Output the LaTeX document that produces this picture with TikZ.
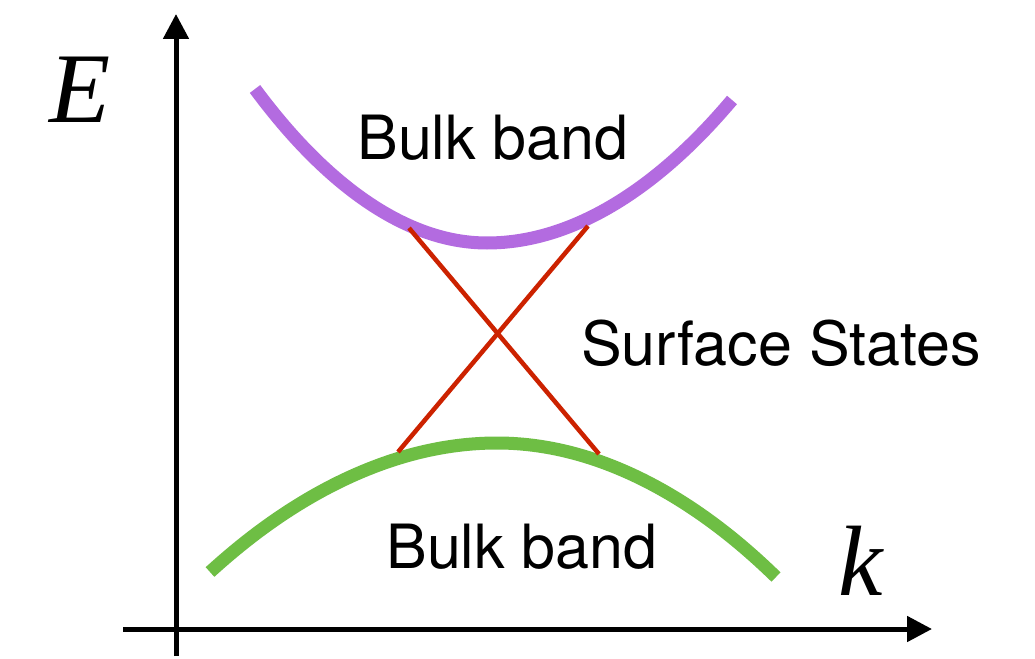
\documentclass[tikz,border=0pt]{standalone}
\usepackage{fontspec}
\setmainfont{TeX Gyre Heros}
\newfontfamily\serifit{Liberation Serif}
\usetikzlibrary{arrows.meta}
\definecolor{bandpurple}{RGB}{179,107,224}
\definecolor{bandgreen}{RGB}{110,190,68}
\definecolor{surfred}{RGB}{204,34,0}
\tikzset{
  axisline/.style={line width=5pt, -{Triangle[length=25pt,width=25pt]}},
  bandline/.style={line width=13pt},
  surfline/.style={line width=4.5pt, surfred},
  lbl/.style={inner sep=0pt, anchor=base, font=\fontsize{61}{72}\selectfont},
  axlbl/.style={inner sep=0pt, anchor=base, font=\serifit\itshape\fontsize{100}{110}\selectfont},
}
\begin{document}
\begin{tikzpicture}[x=1pt,y=-1pt]
\useasboundingbox[fill=white] (0,0) rectangle (1035,658);
% axes
\coordinate (yb) at (176,656);
\coordinate (yt) at (176,14);
\coordinate (xl) at (123,629);
\coordinate (xr) at (932,629);
\draw[axisline] (yb) -- (yt);
\draw[axisline] (xl) -- (xr);
% bands
\draw[bandline, bandpurple] (255,89) parabola bend (487,243) (732,100);
\draw[bandline, bandgreen] (210,572) parabola bend (497,443) (776,577);
% surface states
\coordinate (s1a) at (409,228);
\coordinate (s1b) at (599,454);
\coordinate (s2a) at (588,226);
\coordinate (s2b) at (398,452);
\draw[surfline] (s1a) -- (s1b);
\draw[surfline] (s2a) -- (s2b);
% labels
\node[lbl] (ub) at (493,159) {Bulk band};
\node[lbl] (lb) at (522,568) {Bulk band};
\node[lbl] (ss) at (781,365) {Surface States};
\node[axlbl] (E) at (80,122) {E};
\node[axlbl] (k) at (861,595) {k};
\end{tikzpicture}
\end{document}
